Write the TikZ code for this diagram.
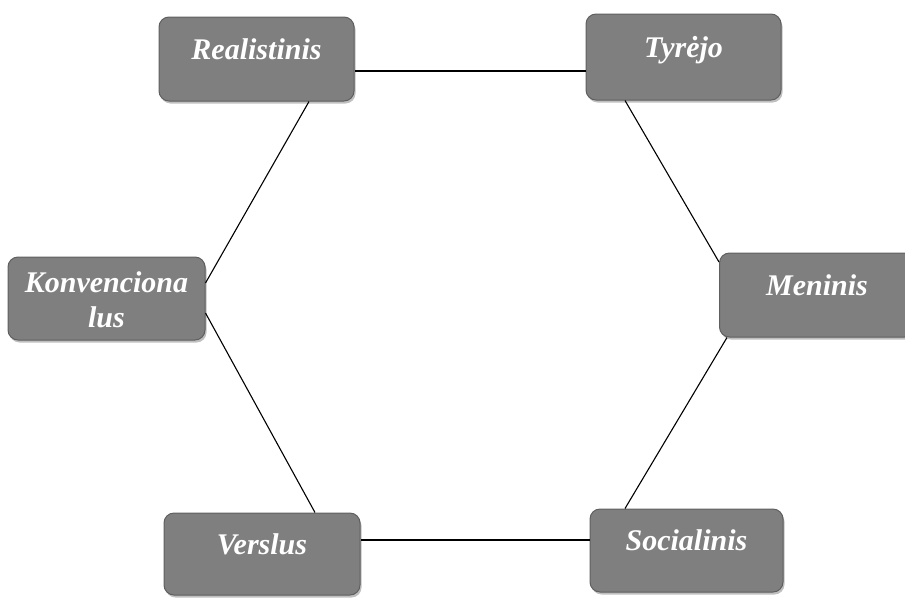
\documentclass[tikz,border=0pt]{standalone}
\usepackage{fontspec}
\setmainfont{Liberation Serif}
\usetikzlibrary{shadows}
\definecolor{boxgray}{RGB}{127,127,127}
\definecolor{boxedge}{RGB}{95,95,95}
\tikzset{
  x=1pt, y=-1pt,
  catbox/.style={rectangle, rounded corners=10pt, fill=boxgray, draw=boxedge, line width=1pt,
    minimum width=195pt, minimum height=84pt, align=center, text=white,
    font=\fontsize{30}{35}\selectfont\bfseries\itshape, text height=15pt, text depth=15pt,
    drop shadow={shadow xshift=1.5pt, shadow yshift=-2.5pt, opacity=0.5}},
  link/.style={draw=black, line width=1.1pt}
}
\begin{document}
\begin{tikzpicture}
\useasboundingbox (0,0) rectangle (905,598);
\node[catbox] (real) at (256.5,59) {Realistinis};
\node[catbox, minimum height=86pt] (tyr) at (683.5,57) {Tyrėjo};
\node[catbox, minimum width=197pt, minimum height=83pt, text height=60pt, text depth=3pt] (konv) at (106.5,298.5) {Konvenciona\\lus};
\node[catbox] (men) at (817,295) {Meninis};
\node[catbox, minimum width=196pt, minimum height=82pt] (vers) at (262,554) {Verslus};
\node[catbox, minimum width=193pt, minimum height=83pt] (soc) at (686.5,550.5) {Socialinis};
\draw[link] ([yshift=-12pt]real.east) -- ([yshift=-14pt]tyr.west);
\draw[link] ([xshift=52.5pt]real.south) -- ([yshift=15.5pt]konv.east);
\draw[link] ([yshift=-14.5pt]konv.east) -- ([xshift=53pt]vers.north);
\draw[link] ([yshift=14pt]vers.east) -- ([yshift=10.5pt]soc.west);
\draw[link] ([xshift=-61.5pt]soc.north) -- ([xshift=8pt]men.south west);
\draw[link] ([yshift=33pt]men.west) -- ([xshift=-58.5pt]tyr.south);
\end{tikzpicture}
\end{document}
